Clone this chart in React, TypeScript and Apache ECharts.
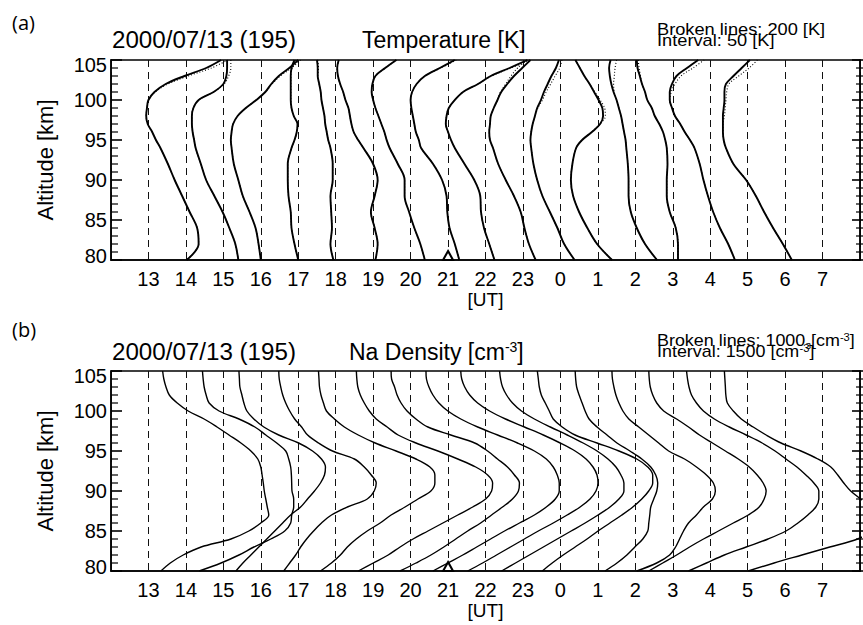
import React, { useEffect, useRef } from "react";
import * as echarts from "echarts";

const HOURS = [14, 15, 16, 17, 18, 19, 20, 21, 22, 23, 0, 1, 2, 3, 4, 5];
const MARK_HOUR = 21;
const ALT_TICKS = [80, 81, 82, 83, 84, 85, 86, 87, 88, 89, 90, 91, 92, 93, 94, 95, 96, 97, 98, 99, 100, 101, 102, 103, 104, 105];

// Temperature profiles [K] at T_ALT [km]
const T_ALT = [105, 104, 103, 102, 101, 100, 99, 98, 97, 96, 95, 94, 92, 90, 88, 86, 84, 82, 80];
const T_14 = [247, 227, 198, 173, 158, 150, 148, 147, 149, 155, 160, 166, 176, 185, 195, 205, 215, 217, 201];
const T_15 = [205, 205, 204, 200, 187, 167, 160, 158, 158, 159, 161, 163, 170, 177, 188, 199, 208, 216, 220];
const T_16 = [250, 238, 224, 214, 206, 194, 180, 169, 163, 161, 160, 161, 164, 170, 176, 185, 193, 197, 200];
const T_17 = [195, 191, 190, 190, 190, 190, 191, 194, 199, 198, 195, 191, 186, 186, 187, 190, 191, 195, 200];
const T_18 = [175, 176, 176, 178, 180, 181, 183, 185, 186, 188, 190, 193, 196, 196, 193, 194, 195, 193, 197];
const T_19 = [154, 152, 153, 156, 160, 163, 167, 169, 171, 174, 180, 187, 200, 206, 202, 197, 202, 206, 203];
const T_20 = [181, 166, 153, 149, 148, 150, 153, 157, 161, 165, 168, 172, 183, 192, 192, 198, 205, 213, 219];
const T_21 = [209, 189, 169, 158, 152, 150, 151, 153, 155, 157, 161, 164, 180, 192, 198, 199, 202, 209, 215];
const T_22 = [256, 232, 207, 190, 170, 159, 151, 148, 147, 150, 154, 159, 172, 185, 193, 194, 198, 205, 212];
const T_23 = [210, 199, 188, 179, 171, 166, 161, 157, 156, 155, 156, 160, 167, 177, 188, 197, 202, 208, 217];
const T_00 = [198, 194, 188, 183, 178, 174, 169, 166, 163, 161, 160, 161, 164, 169, 176, 186, 196, 205, 219];
const T_01 = [170, 176, 182, 189, 195, 201, 206, 207, 203, 192, 179, 171, 166, 164, 167, 175, 186, 199, 219];
const T_02 = [167, 165, 166, 168, 171, 175, 178, 181, 183, 185, 187, 188, 190, 191, 191, 194, 202, 213, 229];
const T_03 = [152, 153, 156, 159, 163, 166, 172, 176, 182, 187, 190, 192, 193, 192, 192, 196, 204, 207, 207];
const T_04 = [184, 169, 155, 149, 146, 146, 149, 153, 160, 166, 173, 179, 186, 191, 197, 204, 213, 224, 233];
const T_05 = [203, 192, 181, 171, 169, 169, 168, 167, 167, 167, 168, 171, 181, 198, 211, 222, 234, 247, 259];
const TEMPS = [T_14, T_15, T_16, T_17, T_18, T_19, T_20, T_21, T_22, T_23, T_00, T_01, T_02, T_03, T_04, T_05];

// second (dotted) temperature estimate: differences [K] from the solid one at the top heights
const DOT_DT = [
  [9, 7, 5, 3, 1, 0, 0, 0],
  [5, 5, 3, 1, 0, 0, 0, 0],
  [3, 3, 2, 1, 0, 0, 0, 0],
  [2, 1, 0, 0, 0, 0, 0, 0],
  [1, 1, 0, 0, 0, 0, 0, 0],
  [0, 0, 0, 0, 0, 0, 0, 0],
  [0, 0, 0, 0, 0, 0, 0, 0],
  [2, 1, 0, 0, 0, 0, 0, 0],
  [3, 2, 1, 0, 0, 0, 0, 0],
  [-5, -6, -4, -2, -1, 0, 0, 0],
  [4, 5, 5, 4, 3, 2, 1, 0],
  [0, 0, 0, 0, 1, 2, 3, 3],
  [8, 8, 6, 3, 1, 0, 0, 0],
  [2, 2, 1, 0, 0, 0, 0, 0],
  [8, 8, 6, 4, 2, 0, 0, 0],
  [10, 10, 7, 4, 3, 2, 2, 2],
];

// Na density profiles [cm^-3] at D_ALT [km]
const D_ALT = [105, 104, 103, 102, 101, 100, 99, 98, 97, 96, 95, 94, 93, 92, 91, 90, 89, 88, 87, 86, 85, 84, 83, 82, 81, 80];
const N_14 = [68, 116, 203, 335, 653, 1092, 1729, 2247, 2725, 3203, 3602, 3880, 4000, 4052, 4100, 4139, 4199, 4259, 4319, 4000, 3522, 2805, 1610, 892, 375, 0];
const N_15 = [163, 191, 231, 311, 430, 829, 1625, 2263, 2701, 3139, 3498, 3618, 3697, 3725, 3737, 3749, 3817, 3817, 3737, 3697, 3458, 2900, 2223, 1625, 908, 32];
const N_16 = [124, 143, 163, 243, 323, 442, 721, 1120, 1717, 2514, 3072, 3430, 3590, 3550, 3390, 3151, 2872, 2594, 2195, 1876, 1558, 1239, 920, 602, 283, 4];
const N_17 = [219, 239, 299, 378, 498, 657, 857, 1135, 1375, 1813, 2371, 3247, 3645, 3924, 4123, 4044, 3765, 2968, 2331, 1932, 1614, 1335, 1096, 896, 657, 418];
const N_18 = [311, 331, 351, 410, 510, 629, 948, 1347, 1904, 2582, 3418, 4215, 4773, 4972, 4972, 4813, 4295, 3777, 3219, 2781, 2263, 1825, 1466, 1187, 829, 390];
const N_19 = [327, 347, 386, 486, 645, 845, 1124, 1562, 2000, 2717, 3594, 4390, 5108, 5586, 5785, 5745, 5506, 4988, 4390, 3793, 3195, 2598, 2080, 1602, 1004, 406];
const N_20 = [219, 239, 359, 458, 618, 857, 1215, 1693, 2610, 3566, 4084, 4482, 4880, 5159, 5359, 5319, 5080, 4681, 4243, 3805, 3287, 2809, 2331, 1813, 1215, 578];
const N_21 = [116, 135, 235, 394, 633, 992, 1510, 2187, 2984, 3781, 4458, 4936, 5215, 5374, 5454, 5454, 5295, 4936, 4458, 3861, 3263, 2705, 2147, 1590, 992, 394];
const N_22 = [8, 48, 167, 367, 685, 1163, 1801, 2558, 3315, 3992, 4590, 5028, 5307, 5466, 5506, 5426, 5187, 4789, 4271, 3713, 3116, 2558, 2000, 1442, 884, 287];
const N_23 = [64, 104, 183, 343, 582, 940, 1458, 2096, 2773, 3410, 3968, 4406, 4725, 4924, 5044, 5044, 4845, 4486, 4008, 3490, 2932, 2374, 1817, 1259, 701, 143];
const N_00 = [76, 116, 155, 235, 394, 554, 713, 1072, 1590, 2466, 3343, 4060, 4498, 4697, 4697, 4538, 4259, 3900, 3462, 2984, 2506, 2068, 1590, 1112, 673, 275];
const N_01 = [92, 112, 151, 251, 371, 490, 649, 968, 1367, 1765, 2283, 2761, 3119, 3319, 3398, 3359, 3239, 3119, 3080, 3040, 3000, 2801, 2482, 2163, 1765, 1287];
const N_02 = [64, 84, 143, 223, 343, 502, 741, 1139, 1538, 1936, 2335, 2972, 3450, 3849, 4127, 4207, 4088, 3729, 3450, 3131, 2932, 2773, 2614, 2374, 1857, 1060];
const N_03 = [40, 60, 100, 199, 359, 637, 1155, 1633, 2072, 2590, 3108, 3625, 4064, 4382, 4621, 4741, 4661, 4462, 4024, 3426, 2829, 2231, 1673, 1155, 598, 40];
const N_04 = [52, 92, 151, 251, 450, 729, 1167, 1765, 2442, 3080, 3598, 4036, 4474, 4833, 5151, 5351, 5351, 5231, 4912, 4514, 4036, 3319, 2442, 1566, 849, 131];
const N_05 = [68, 88, 108, 127, 187, 426, 745, 1223, 1741, 2339, 3135, 3813, 4331, 4610, 4849, 5127, 5526, 5964, 6203, 6203, 5964, 5406, 4291, 3175, 2060, 1024];
const DENS = [N_14, N_15, N_16, N_17, N_18, N_19, N_20, N_21, N_22, N_23, N_00, N_01, N_02, N_03, N_04, N_05];

const T_BASE = 200, T_STEP = 50;
const N_BASE = 1000, N_STEP = 1500;
const X_MIN = 12, X_MAX = 32;
const Y_MIN = 80, Y_MAX = 105;
const GRID_LEFT = 111, GRID_W = 752, GRID_H = 200;
const GRID_TOPS = [60, 371];

const pos = (h: number) => (h < 12 ? h + 24 : h);

const FONT = "Liberation Sans, Arial, sans-serif";

function axesFor(gridIndex: number) {
  const x = {
    type: "value", gridIndex, min: X_MIN, max: X_MAX, interval: 1,
    axisLine: { show: true, lineStyle: { color: "#000", width: 1.5 } },
    axisTick: { show: false },
    splitLine: { show: true, lineStyle: { color: "#111", width: 1, type: [7, 5] } },
    axisLabel: {
      color: "#000", fontSize: 20, fontFamily: FONT, margin: 9,
      formatter: (v: number) => (v === X_MIN || v === X_MAX ? "" : String(v % 24)),
    },
    name: "[UT]", nameLocation: "middle", nameGap: 27,
    nameTextStyle: { color: "#000", fontSize: 19, fontFamily: FONT },
  };
  const yl = {
    type: "value", gridIndex, min: Y_MIN, max: Y_MAX, interval: 5, position: "left",
    axisLine: { show: true, lineStyle: { color: "#000", width: 1.5 } },
    axisTick: { show: false },
    splitLine: { show: false },
    axisLabel: {
      color: "#000", fontSize: 20, fontFamily: FONT, margin: 4,
      formatter: (v: number) => (v === 105 ? `{t|${v}}` : v === 80 ? `{b|${v}}` : `{m|${v}}`),
      rich: {
        t: { fontSize: 20, fontFamily: FONT, color: "#000", padding: [9, 0, 0, 0] },
        b: { fontSize: 20, fontFamily: FONT, color: "#000", padding: [0, 0, 9, 0] },
        m: { fontSize: 20, fontFamily: FONT, color: "#000" },
      },
    },
    name: "Altitude [km]", nameLocation: "middle", nameGap: 55, nameRotate: 90,
    nameTextStyle: { color: "#000", fontSize: 22, fontFamily: FONT },
  };
  const yr = {
    type: "value", gridIndex, min: Y_MIN, max: Y_MAX, interval: 5, position: "right",
    axisLine: { show: true, lineStyle: { color: "#000", width: 1.5 } },
    axisTick: { show: false },
    splitLine: { show: false },
    axisLabel: { show: false },
  };
  return { x, yl, yr };
}

export default function App() {
  const ref = useRef<HTMLDivElement>(null);
  useEffect(() => {
    if (!ref.current) return;
    const chart = echarts.init(ref.current, null, { renderer: "svg" });
    const a0 = axesFor(0);
    const a1 = axesFor(1);
    const series: any[] = [];

    HOURS.forEach((h, k) => {
      const T = TEMPS[k];
      const solid = T_ALT.map((alt, i) => [pos(h) + (T[i] - T_BASE) / T_STEP, alt]);
      const dotted = T_ALT.map((alt, i) => {
        const dt = i < DOT_DT[k].length ? DOT_DT[k][i] : 0;
        return [pos(h) + (T[i] + dt - T_BASE) / T_STEP, alt];
      });
      series.push({
        type: "line", xAxisIndex: 0, yAxisIndex: 0, data: dotted, smooth: 0.35,
        symbol: "none", silent: true, z: 2,
        lineStyle: { color: "#000", width: 1.1, type: [1, 2] },
      });
      series.push({
        type: "line", xAxisIndex: 0, yAxisIndex: 0, data: solid, smooth: 0.35,
        symbol: "none", silent: true, z: 3,
        lineStyle: { color: "#000", width: 1.9 },
      });
    });

    HOURS.forEach((h, k) => {
      const N = DENS[k];
      const d = D_ALT.map((alt, i) => [pos(h) + (N[i] - N_BASE) / N_STEP, alt]);
      series.push({
        type: "line", xAxisIndex: 1, yAxisIndex: 2, data: d, smooth: 0.35,
        symbol: "none", silent: true, z: 3,
        lineStyle: { color: "#000", width: 1.4 },
      });
    });

    [0, 1].forEach((g) => {
      series.push({
        type: "scatter", xAxisIndex: g, yAxisIndex: g * 2, data: [[MARK_HOUR, 80]],
        symbol: "triangle", symbolSize: [10, 9], symbolOffset: [0, -4.5], clip: false, z: 10,
        itemStyle: { color: "#fff", borderColor: "#000", borderWidth: 2, opacity: 1 },
      });
    });

    // inward altitude ticks on both frame sides (from the same grid geometry as the axes)
    const ticks: any[] = [];
    GRID_TOPS.forEach((top) => {
      ALT_TICKS.forEach((a) => {
        const major = a % 5 === 0;
        const len = major ? 11 : 7;
        const w = major ? 1.6 : 1.2;
        const y = top + ((Y_MAX - a) / (Y_MAX - Y_MIN)) * GRID_H;
        ticks.push({ type: "rect", z: 100, silent: true, shape: { x: GRID_LEFT, y: y - w / 2, width: len, height: w }, style: { fill: "#000" } });
        ticks.push({ type: "rect", z: 100, silent: true, shape: { x: GRID_LEFT + GRID_W - len, y: y - w / 2, width: len, height: w }, style: { fill: "#000" } });
      });
    });

    const supText = (parts: any[], x: number, y: number, size: number, scaleX = 1) => ({
      type: "text", x, y, scaleX,
      style: {
        text: parts.map((p) => (p[1] ? `{${p[1]}|${p[0]}}` : `{b|${p[0]}}`)).join(""),
        fill: "#000", verticalAlign: "middle", align: "left",
        rich: {
          b: { fontSize: size, lineHeight: size + 2, fontFamily: FONT, fill: "#000" },
          sup: { fontSize: Math.round(size * 0.6), lineHeight: Math.round(size * 0.55), verticalAlign: "top", fontFamily: FONT, fill: "#000" },
          sub: { fontSize: Math.round(size * 0.55), lineHeight: Math.round(size * 0.5), verticalAlign: "bottom", fontFamily: FONT, fill: "#000" },
        },
      },
    });

    const graphic: any[] = [
      { type: "text", x: 12, y: 22, style: { text: "(a)", fontSize: 20, fontFamily: "Open Sans, sans-serif", fill: "#000", verticalAlign: "middle" } },
      { type: "text", x: 12, y: 329, style: { text: "(b)", fontSize: 20, fontFamily: "Open Sans, sans-serif", fill: "#000", verticalAlign: "middle" } },
      { type: "text", x: 112, y: 40, scaleX: 1.05, style: { text: "2000/07/13 (195)", fontSize: 23, fontFamily: FONT, fill: "#000", verticalAlign: "middle" } },
      { type: "text", x: 362, y: 40, style: { text: "Temperature [K]", fontSize: 23, fontFamily: FONT, fill: "#000", verticalAlign: "middle" } },
      { type: "text", x: 657, y: 29.5, scaleX: 1.14, style: { text: "Broken lines: 200 [K]", fontSize: 16, fontFamily: FONT, fill: "#000", verticalAlign: "middle" } },
      { type: "text", x: 657, y: 40.5, scaleX: 1.14, style: { text: "Interval: 50 [K]", fontSize: 16, fontFamily: FONT, fill: "#000", verticalAlign: "middle" } },
      { type: "text", x: 112, y: 352, scaleX: 1.05, style: { text: "2000/07/13 (195)", fontSize: 23, fontFamily: FONT, fill: "#000", verticalAlign: "middle" } },
      supText([["Na Density [cm"], ["-3", "sup"], ["]"]], 349, 352, 23),
      supText([["Broken lines: 1000"], ["3", "sub"], ["[cm"], ["-3", "sup"], ["]"]], 657, 341, 16, 1.12),
      supText([["Interval: 1500 [cm"], ["-3", "sup"], ["]"]], 657, 352, 16, 1.12),
      ...ticks,
    ];

    chart.setOption({
      animation: false,
      backgroundColor: "#fff",
      grid: GRID_TOPS.map((top) => ({
        left: GRID_LEFT, top, width: GRID_W, height: GRID_H, show: true,
        borderColor: "#000", borderWidth: 1.5, backgroundColor: "rgba(0,0,0,0)",
      })),
      xAxis: [a0.x, a1.x],
      yAxis: [a0.yl, a0.yr, a1.yl, a1.yr],
      series,
      graphic,
    });

    return () => chart.dispose();
  }, []);
  return <div ref={ref} style={{ position: "fixed", left: 0, top: 0, width: 863, height: 625, background: "#fff" }} />;
}
